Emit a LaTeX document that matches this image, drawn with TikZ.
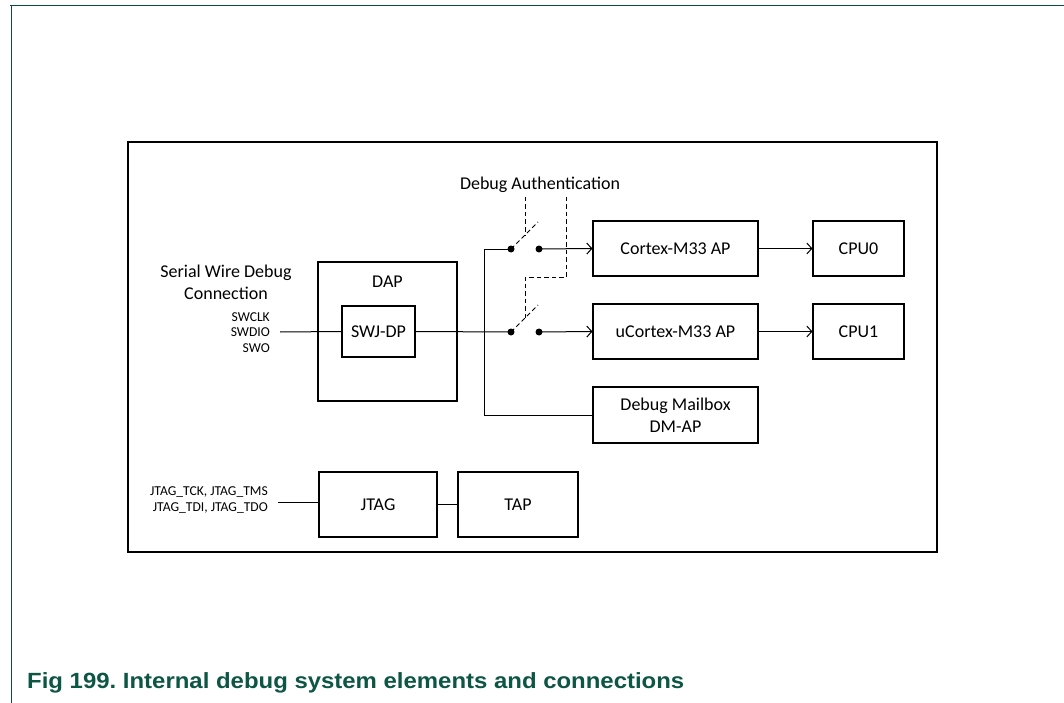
\documentclass[tikz,border=0pt]{standalone}
\usepackage{fontspec}
\usepackage{graphicx}
\setmainfont{Carlito}
\newfontfamily\capfont{Liberation Sans}
\usetikzlibrary{arrows.meta}
\definecolor{nxpgreen}{RGB}{11,76,60}
\definecolor{capgreen}{RGB}{14,86,68}
\tikzset{
  blk/.style={draw, line width=1.1pt, rectangle, minimum width=#1, inner sep=0pt, align=center, font=\fontsize{18}{22}\selectfont},
  blk/.default=165pt,
  wire/.style={line width=1pt},
  arr/.style={line width=1pt, -{Straight Barb[length=5pt,width=11pt]}},
  auth/.style={line width=1pt, dash pattern=on 4.5pt off 3pt},
  sdot/.style={circle, fill, inner sep=0pt, minimum size=7pt},
  lbl/.style={font=\fontsize{18}{22}\selectfont, align=center},
  small/.style={font=\fontsize{13.6}{15}\selectfont, align=right, inner sep=0pt}
}
\begin{document}
\begin{tikzpicture}[x=1pt,y=-1pt]
\useasboundingbox (0,0) rectangle (1064,703);
% page frame
\draw[nxpgreen, line width=1.4pt] (10,5.5) -- (1064,5.5);
\draw[nxpgreen, line width=1.4pt] (11.5,5) -- (11.5,703);
% main box
\draw[line width=1.1pt] (128,142) rectangle (937,552);
% caption
\node[anchor=base west, inner sep=0pt, text=capgreen, font=\capfont\bfseries\fontsize{22}{26}\selectfont] (cap) at (27,688) {\scalebox{1.088}[1]{Fig 199.\ Internal debug system elements and connections}};
% DAP
\node[blk=139pt, minimum height=139pt] (dap) at (387.5,331.5) {};
\node[lbl] (daplbl) at (387.5,282) {DAP};
\node[blk=73pt, minimum height=51pt] (swj) at (378.5,331.5) {SWJ-DP};
% left labels
\node[lbl] (swdc) at (226,282) {Serial Wire Debug\\Connection};
\node[small, anchor=east] (swclk) at (270,317) {SWCLK};
\node[small, anchor=east] (swdio) at (270,332.5) {SWDIO};
\node[small, anchor=east] (swo) at (270,348) {SWO};
\coordinate (swin) at (280,332);
\draw[wire] (swin) -- (swj.west);
% AP boxes
\node[blk, minimum height=55pt] (cm33) at (675.5,248.5) {Cortex-M33 AP};
\node[blk, minimum height=55pt] (ucm33) at (675.5,331.5) {uCortex-M33 AP};
\node[blk, minimum height=56pt] (mbox) at (675.5,415) {Debug Mailbox\\DM-AP};
\node[blk=91pt, minimum height=55pt] (cpu0) at (858.5,248.5) {CPU0};
\node[blk=91pt, minimum height=55pt] (cpu1) at (858.5,331.5) {CPU1};
% switches
\node[sdot] (s1a) at (511,249) {};
\node[sdot] (s1b) at (539,249) {};
\node[sdot] (s2a) at (511,332) {};
\node[sdot] (s2b) at (539,332) {};
\coordinate (l1) at (538,222);
\coordinate (l2) at (538,305);
\draw[auth] (s1a.center) -- (l1);
\draw[auth] (s2a.center) -- (l2);
\coordinate (jn) at (484,249);
\draw[wire] (swj.east) -- (s2a.center);
\draw[wire] (s1a.center) -- (jn) |- (mbox.west);
\draw[arr] (s1b.center) -- (cm33.west);
\draw[arr] (s2b.center) -- (ucm33.west);
\draw[arr] (cm33.east) -- (cpu0.west);
\draw[arr] (ucm33.east) -- (cpu1.west);
% debug authentication
\node[lbl] (dauth) at (540,185) {Debug Authentication};
\coordinate (a1) at (525,197);
\coordinate (a2) at (566,197);
\draw[auth] (a1) -- (525,235);
\draw[auth] (a2) -- (566,277) -- (525,277) -- (525,318);
% JTAG
\node[small, anchor=east] (jt1) at (268,492) {JTAG\_TCK, JTAG\_TMS};
\node[small, anchor=east] (jt2) at (268,507.5) {JTAG\_TDI, JTAG\_TDO};
\coordinate (jin) at (278,502);
\node[blk=118pt, minimum height=65pt] (jtag) at (378,504.5) {JTAG};
\node[blk=120pt, minimum height=65pt] (tap) at (518,504.5) {TAP};
\draw[wire] (jin) -- (jin -| jtag.west);
\draw[wire] (jtag.east) -- (tap.west);
\end{tikzpicture}
\end{document}
